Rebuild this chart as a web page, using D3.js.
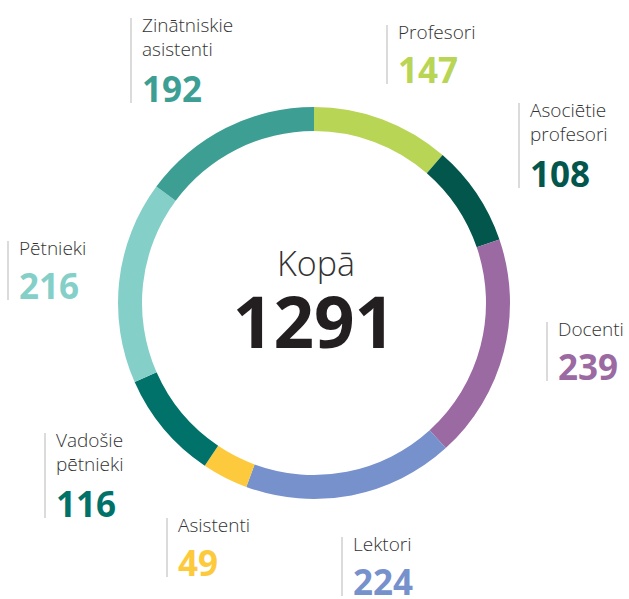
<!DOCTYPE html>
<html><head><meta charset="utf-8">
<script src="https://cdn.jsdelivr.net/npm/d3@7"></script>
<style>html,body{margin:0;padding:0;background:#fff;}</style>
</head><body>
<svg id="chart" width="629" height="599"></svg>
<script>
const categories = ["Profesori", "Asociētie profesori", "Docenti", "Lektori", "Asistenti", "Vadošie pētnieki", "Pētnieki", "Zinātniskie asistenti"];
const values = [147, 108, 239, 224, 49, 116, 216, 192];
const colors = ["#b8d555", "#02564c", "#9b6aa3", "#7791cc", "#fdca3e", "#00726a", "#84d0c9", "#3d9f94"];
const labelLines = [["Profesori"], ["Asociētie", "profesori"], ["Docenti"], ["Lektori"], ["Asistenti"], ["Vadošie", "pētnieki"], ["Pētnieki"], ["Zinātniskie", "asistenti"]];
const totalLabel = "Kopā";

const svg = d3.select("#chart");
const cx = 314, cy = 303, rOuter = 196, rInner = 172;
const font = "'Open Sans', 'Segoe UI', sans-serif";

const pie = d3.pie().sort(null).value(d => d)(values);
const arc = d3.arc().innerRadius(rInner).outerRadius(rOuter);
const g = svg.append("g").attr("transform", `translate(${cx},${cy})`);
g.selectAll("path").data(pie).join("path")
  .attr("d", arc).attr("fill", (d, i) => colors[i]);

const total = d3.sum(values);
g.append("text").attr("x", 2).attr("y", -27).attr("text-anchor", "middle")
  .attr("font-family", font).attr("font-weight", 300).attr("font-size", 34).attr("fill", "#333")
  .text(totalLabel);
g.append("text").attr("x", 0).attr("y", 45).attr("text-anchor", "middle")
  .attr("font-family", font).attr("font-weight", 700).attr("font-size", 71).attr("fill", "#231f20")
  .text(total);

// label anchor positions (vertical rule x, top y)
const labelPos = [
  [387, 25], [519, 103], [547, 322], [342, 537], [167, 518], [45, 433], [8, 241], [131, 18]
];
labelPos.forEach((p, i) => {
  const lg = svg.append("g").attr("transform", `translate(${p[0]},${p[1]})`);
  const lines = labelLines[i];
  const numBase = lines.length === 2 ? 84 : 58;
  lg.append("line").attr("x1", 0).attr("x2", 0).attr("y1", 0).attr("y2", numBase + 1)
    .attr("stroke", "#cfcfcf").attr("stroke-width", 1.5);
  lines.forEach((t, j) => {
    lg.append("text").attr("x", 11).attr("y", 14 + j * 24)
      .attr("font-family", font).attr("font-weight", 300).attr("font-size", 19).attr("fill", "#333")
      .text(t);
  });
  lg.append("text").attr("x", 11).attr("y", numBase)
    .attr("font-family", font).attr("font-weight", 700).attr("font-size", 35).attr("fill", colors[i])
    .text(values[i]);
});
</script>
</body></html>
